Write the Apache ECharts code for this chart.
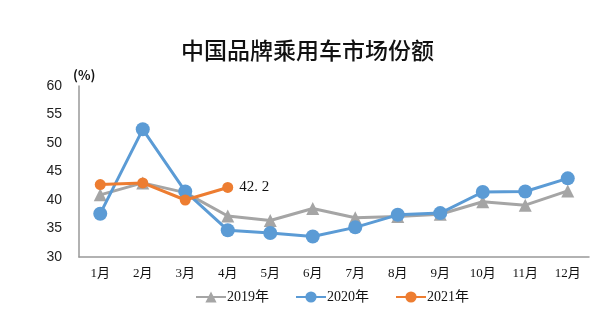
<!DOCTYPE html>
<html><head><meta charset="utf-8">
<script src="https://cdn.jsdelivr.net/npm/echarts@6/dist/echarts.min.js"></script>
<style>html,body{margin:0;padding:0;background:#fff}#c{width:615px;height:325px}</style>
</head><body><div id="c"></div>
<script>
var categories = ['1月','2月','3月','4月','5月','6月','7月','8月','9月','10月','11月','12月'];
var s2019 = [40.9, 43.0, 41.3, 37.2, 36.4, 38.5, 36.9, 37.1, 37.5, 39.7, 39.1, 41.6];
var s2020 = [37.6, 52.4, 41.5, 34.7, 34.2, 33.6, 35.2, 37.4, 37.7, 41.4, 41.5, 43.8];
var s2021 = [42.7, 43.0, 40.0, 42.2];
var yTicks = [30, 35, 40, 45, 50, 55, 60];
var seriesNames = ['2019年', '2020年', '2021年'];

var chart = echarts.init(document.getElementById('c'));
var cjk = '"Noto Sans CJK SC", sans-serif';
chart.setOption({
  animation: false,
  title: {
    text: '中国品牌乘用车市场份额', left: 'center', top: 34,
    textStyle: { fontFamily: cjk, fontSize: 23, fontWeight: 500, color: '#111' }
  },
  legend: {
    bottom: 16, left: 190, itemWidth: 30, itemHeight: 14, itemGap: 26,
    textStyle: { fontFamily: '"Liberation Serif", ' + cjk, fontSize: 14, color: '#111', padding: [0, 0, 0, -4] },
    data: seriesNames
  },
  grid: { left: 79, right: 26, top: 86, bottom: 68 },
  xAxis: {
    type: 'category', data: categories, boundaryGap: true,
    axisLine: { lineStyle: { color: '#999', width: 1.5 } },
    axisTick: { show: false },
    axisLabel: { color: '#111', fontSize: 13, margin: 10, fontFamily: '"Liberation Serif", ' + cjk }
  },
  yAxis: {
    type: 'value', min: yTicks[0], max: yTicks[yTicks.length - 1], interval: 5,
    name: '(%)', nameLocation: 'end', nameGap: 4,
    nameTextStyle: { color: '#111', fontSize: 13, fontFamily: cjk, align: 'left', padding: [0, 0, 0, -6], fontWeight: 'bold' },
    axisLine: { show: true, lineStyle: { color: '#999', width: 1.5 } },
    axisTick: { show: false },
    splitLine: { show: false },
    axisLabel: { color: '#222', fontSize: 14, margin: 17, fontFamily: '"Liberation Sans", sans-serif' }
  },
  series: [
    { name: seriesNames[0], type: 'line', data: s2019, symbol: 'triangle', symbolSize: 13,
      itemStyle: { color: '#A5A5A5' }, lineStyle: { width: 3, color: '#A5A5A5' }, z: 2 },
    { name: seriesNames[1], type: 'line', data: s2020, symbol: 'circle', symbolSize: 14,
      itemStyle: { color: '#5B9BD5' }, lineStyle: { width: 3, color: '#5B9BD5' }, z: 3 },
    { name: seriesNames[2], type: 'line', data: s2021, symbol: 'circle', symbolSize: 11,
      itemStyle: { color: '#ED7D31' }, lineStyle: { width: 3, color: '#ED7D31' }, z: 4,
      label: { show: true, position: 'right', distance: 6, color: '#111', fontSize: 15,
        fontFamily: '"Liberation Serif", serif',
        formatter: function (p) { return p.dataIndex === 3 ? p.value.toFixed(1).replace('.', '. ') : ''; } } }
  ]
});
</script></body></html>
